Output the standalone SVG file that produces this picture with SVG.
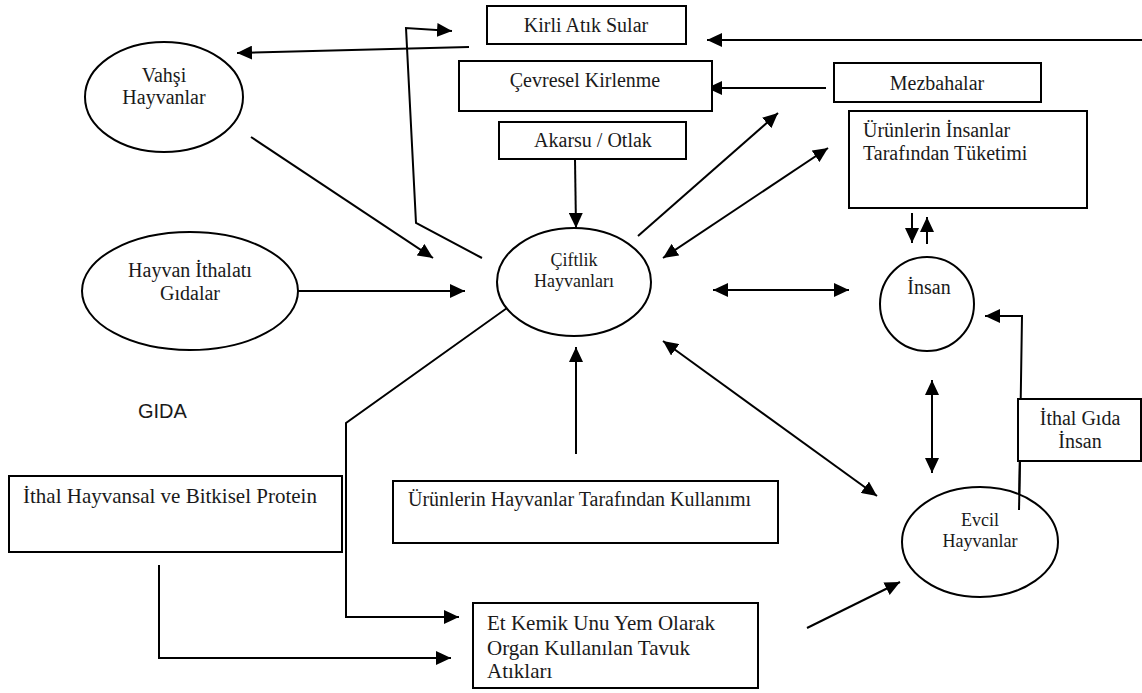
<svg xmlns="http://www.w3.org/2000/svg" width="1142" height="693" viewBox="0 0 1142 693">
<style>
.b{fill:#fff;stroke:#000;stroke-width:2}
.t{font-family:"Liberation Serif","Times New Roman",serif;font-size:20px;fill:#1a1a1a}
.s{font-size:18px}
.m{text-anchor:middle}
.c{fill:none;stroke:#000;stroke-width:2}
.a{marker-end:url(#ah)}
.d{marker-end:url(#ah);marker-start:url(#ah)}
</style>
<defs>
<marker id="ah" markerUnits="userSpaceOnUse" markerWidth="16" markerHeight="14" refX="15" refY="7" orient="auto-start-reverse" viewBox="0 0 16 14">
<path d="M0,0 L15,7 L0,14 z" fill="#000"/>
</marker>
</defs>
<rect width="1142" height="693" fill="#fff"/>
<g id="connectors">
<line class="c a" x1="1142" y1="40" x2="707" y2="40"/>
<line class="c a" x1="826" y1="88" x2="707" y2="88"/>
<line class="c a" x1="469" y1="47" x2="237" y2="53"/>
<polyline class="c a" points="482,258 416,223 406,28 452,31"/>
<line class="c a" x1="251" y1="137" x2="433" y2="258"/>
<line class="c a" x1="298" y1="291" x2="465" y2="291"/>
<line class="c a" x1="575" y1="159" x2="576" y2="228"/>
<line class="c a" x1="638" y1="236" x2="778" y2="113"/>
<line class="c d" x1="663" y1="258" x2="828" y2="148"/>
<line class="c d" x1="713" y1="290" x2="849" y2="290"/>
<line class="c a" x1="912" y1="213" x2="912" y2="243"/>
<line class="c a" x1="927" y1="244" x2="927" y2="217"/>
<line class="c d" x1="932" y1="380" x2="932" y2="473"/>
<polyline class="c a" points="1019,510 1022,316 985,316"/>
<line class="c d" x1="663" y1="341" x2="877" y2="496"/>
<line class="c a" x1="576" y1="454" x2="576" y2="347"/>
<line class="c a" x1="807" y1="628" x2="900" y2="582"/>
<polyline class="c a" points="514,303 346,423 346,617 459,617"/>
<polyline class="c a" points="159,565 159,658 451,658"/>
</g>
<g id="kirli"><rect class="b" x="487" y="6" width="199" height="38"/><text class="t m" x="586" y="32">Kirli Atık Sular</text></g>
<g id="cevresel"><rect class="b" x="459" y="61" width="253" height="50"/><text class="t m" x="585" y="87">Çevresel Kirlenme</text></g>
<g id="akarsu"><rect class="b" x="499" y="122" width="187" height="37"/><text class="t m" x="593" y="147">Akarsu / Otlak</text></g>
<g id="mezbahalar"><rect class="b" x="834" y="63" width="207" height="39"/><text class="t m" x="937" y="90">Mezbahalar</text></g>
<g id="urunler-insan"><rect class="b" x="849" y="111" width="238" height="97"/><text class="t" x="863" y="137">Ürünlerin İnsanlar</text><text class="t" x="863" y="160">Tarafından Tüketimi</text></g>
<g id="vahsi"><ellipse class="b" cx="164" cy="97" rx="79" ry="55"/><text class="t m" x="164" y="82">Vahşi</text><text class="t m" x="164" y="104">Hayvanlar</text></g>
<g id="hayvan-ithalati"><ellipse class="b" cx="190" cy="291" rx="108" ry="59"/><text class="t m" x="190" y="277">Hayvan İthalatı</text><text class="t m" x="190" y="300">Gıdalar</text></g>
<g id="ciftlik"><ellipse class="b" cx="574" cy="282" rx="77" ry="54"/><text class="t s m" x="574" y="266">Çiftlik</text><text class="t s m" x="574" y="287">Hayvanları</text></g>
<g id="insan"><circle class="b" cx="927" cy="304" r="47"/><text class="t m" x="929" y="294">İnsan</text></g>
<g id="ithal-gida"><rect class="b" x="1018" y="399" width="123" height="62"/><text class="t m" x="1080" y="425">İthal Gıda</text><text class="t m" x="1080" y="448">İnsan</text></g>
<g id="evcil"><ellipse class="b" cx="980" cy="542" rx="78" ry="55"/><text class="t s m" x="980" y="526">Evcil</text><text class="t s m" x="980" y="547">Hayvanlar</text></g>
<line class="c" x1="1019" y1="510" x2="1020" y2="461"/>
<g id="gida"><text x="138" y="418" style="font-family:'Liberation Sans',Arial,sans-serif;font-size:20px;fill:#1a1a1a">GIDA</text></g>
<g id="ithal-hayvansal"><rect class="b" x="9" y="476" width="333" height="76"/><text class="t" x="23" y="503" style="font-size:21px">İthal Hayvansal ve Bitkisel Protein</text></g>
<g id="urunler-hayvan"><rect class="b" x="393" y="481" width="385" height="62"/><text class="t" x="408" y="506">Ürünlerin Hayvanlar Tarafından Kullanımı</text></g>
<g id="et-kemik"><rect class="b" x="473" y="603" width="285" height="85"/><text class="t" x="487" y="630" style="font-size:21px">Et Kemik Unu Yem Olarak</text><text class="t" x="487" y="655" style="font-size:21px">Organ Kullanılan Tavuk</text><text class="t" x="487" y="678" style="font-size:21px">Atıkları</text></g>
</svg>
